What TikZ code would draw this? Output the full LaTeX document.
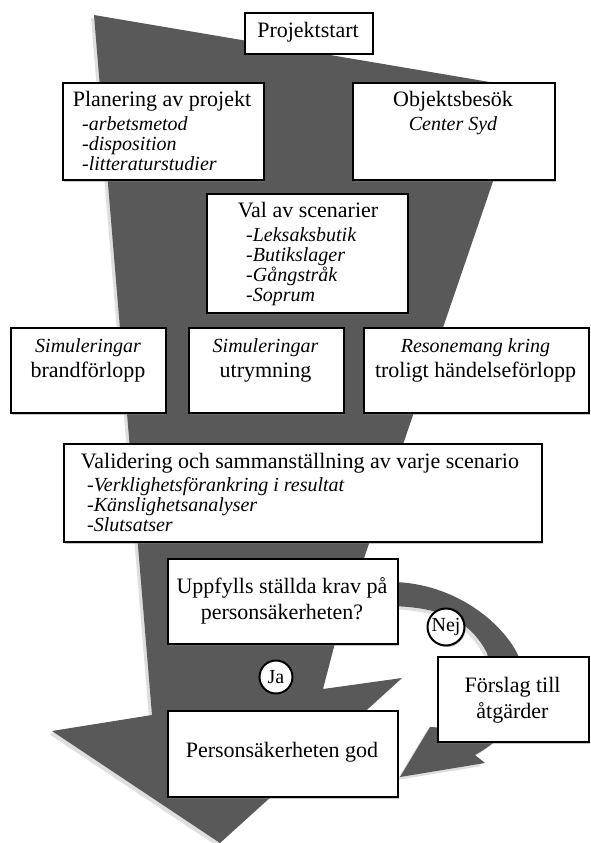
\documentclass[tikz,border=0pt]{standalone}
\usepackage{fontspec}
\setmainfont{Liberation Serif}
\usetikzlibrary{positioning,calc,shadows}

\begin{document}
\begin{tikzpicture}[
  x=1pt, y=-1pt,
  flow/.style={fill=black!65, drop shadow={shadow xshift=-3pt, shadow yshift=-3pt, opacity=.25}},
  box/.style={draw, fill=white, line width=2pt, inner sep=0, anchor=north west,
    drop shadow={shadow xshift=1pt, shadow yshift=-1.5pt, opacity=.45}},
  head/.style={anchor=base, inner sep=0, font=\fontsize{22}{26}\selectfont},
  note/.style={anchor=base, inner sep=0, font=\fontsize{20}{20}\selectfont\itshape},
  sub/.style={anchor=base west, inner sep=0, font=\fontsize{20}{20}\selectfont\itshape},
  answer/.style={circle, draw, fill=white, line width=2pt, inner sep=0,
    minimum size=#1, drop shadow={shadow xshift=1pt, shadow yshift=-1.5pt, opacity=.45}}
]
\useasboundingbox (0,0) rectangle (590,843);

% the big arrow down the page
\fill[flow] (94,15) -- (525,88) -- (335,643) -- (323,689) -- (402,678)
  -- (220,843) -- (52,731) -- (152,715) -- cycle;
% the loop back from "Nej"
\fill[flow] (385,582) .. controls (450,580) and (500,620) .. (517,653)
  .. controls (535,690) and (520,730) .. (475,755) -- (485,763) -- (400,777)
  -- (430,727) -- (448,728) .. controls (480,705) and (495,680) .. (487,653)
  .. controls (470,620) and (440,606) .. (385,606) -- cycle;

\node (start) [box, minimum width=128pt, minimum height=41pt] at (244,12) {};
\node (start-t) [head] at (308,38) {Projektstart};

\node (plan) [box, minimum width=201pt, minimum height=97pt] at (62,82) {};
\node (plan-t) [head] at (162,106) {Planering av projekt};
\node (plan-s) [sub] at (82,130) {\begin{tabular}[t]{@{}l@{}}-arbetsmetod\\-disposition\\-litteraturstudier\end{tabular}};

\node (obj) [box, minimum width=202pt, minimum height=97pt] at (352,82) {};
\node (obj-t) [head] at (453,106) {Objektsbesök};
\node (obj-s) [note] at (453,130) {Center Syd};

\node (val) [box, minimum width=201pt, minimum height=119pt] at (206,193) {};
\node (val-t) [head] at (308,217) {Val av scenarier};
\node (val-s) [sub] at (246,241) {\begin{tabular}[t]{@{}l@{}}-Leksaksbutik\\-Butikslager\\-Gångstråk\\-Soprum\end{tabular}};

\node (S1) [box, minimum width=155pt, minimum height=85pt] at (10,327) {};
\node (S1-s) [note] at (88,352) {Simuleringar};
\node (S1-t) [head] at (88,377) {brandförlopp};

\node (S2) [box, minimum width=155pt, minimum height=85pt] at (188,327) {};
\node (S2-s) [note] at (265.5,352) {Simuleringar};
\node (S2-t) [head] at (265.5,377) {utrymning};

\node (S3) [box, minimum width=225pt, minimum height=85pt] at (363,327) {};
\node (S3-s) [note] at (475.5,352) {Resonemang kring};
\node (S3-t) [head] at (475.5,377) {troligt händelseförlopp};

\node (valid) [box, minimum width=478pt, minimum height=98pt] at (63,443) {};
\node (valid-t) [head] at (300,468) {Validering och sammanställning av varje scenario};
\node (valid-s) [sub] at (87,491) {\begin{tabular}[t]{@{}l@{}}-Verklighetsförankring i resultat\\-Känslighetsanalyser\\-Slutsatser\end{tabular}};

\node (krav) [box, minimum width=230pt, minimum height=85pt] at (167,558) {};
\node (krav-t) [head] at (282,593) {Uppfylls ställda krav på};
\node (krav-u) [head] at (282,619) {personsäkerheten?};

\node (forslag) [box, minimum width=151pt, minimum height=85pt] at (437,656) {};
\node (forslag-t) [head] at (512.5,692) {Förslag till};
\node (forslag-u) [head] at (512.5,718) {åtgärder};

\node (god) [box, minimum width=230pt, minimum height=86pt] at (167,710) {};
\node (god-t) [head] at (282,757) {Personsäkerheten god};

\node (ja) [answer=33pt] at (276,677) {\fontsize{20}{20}\selectfont Ja};
\node (nej) [answer=37pt] at (446,627) {\fontsize{20}{20}\selectfont Nej};
\end{tikzpicture}
\end{document}
